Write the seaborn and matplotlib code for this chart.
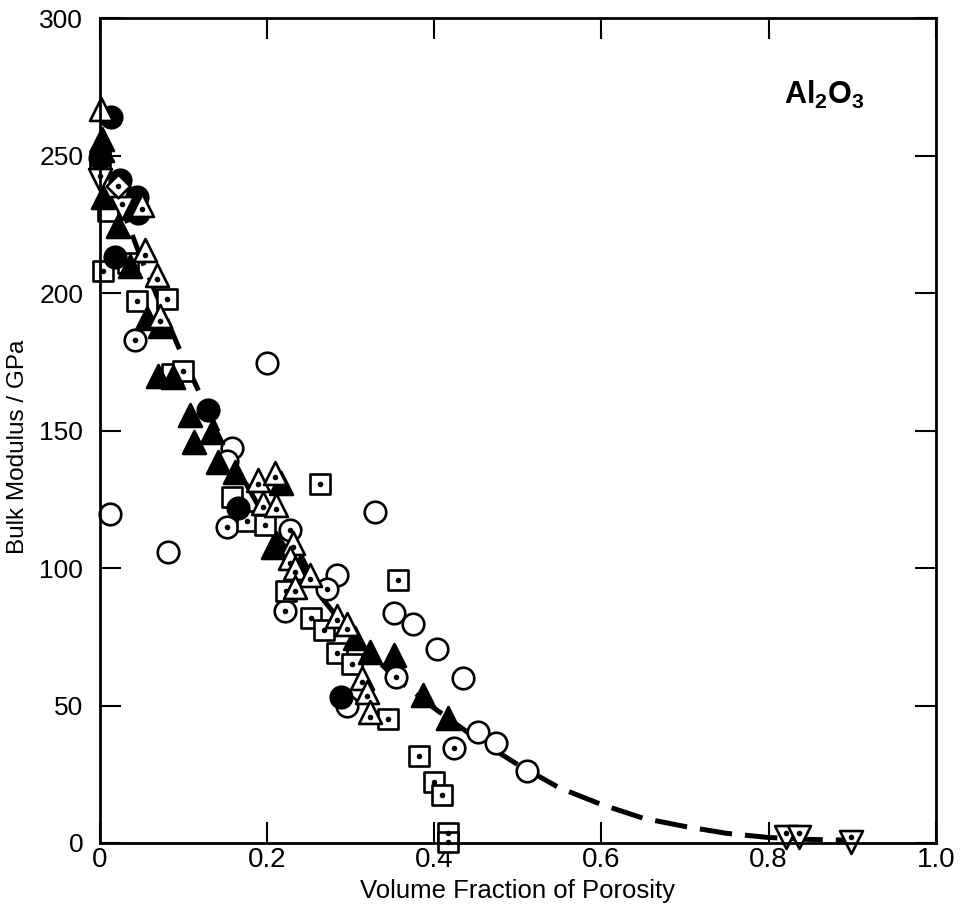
import matplotlib
matplotlib.use("Agg")
import matplotlib.pyplot as plt
import seaborn as sns
import numpy as np
import pandas as pd

# ---------------- data ----------------
filled_circle_x = [0.013, 0.0, 0.024, 0.044, 0.046, 0.018, 0.129, 0.165, 0.288]
filled_circle_y = [264, 249, 241, 235, 229, 213, 157.5, 122, 53]

open_circle_x = [0.012, 0.081, 0.200, 0.158, 0.152, 0.329, 0.283, 0.352, 0.374,
                 0.403, 0.434, 0.452, 0.474, 0.511, 0.295]
open_circle_y = [119.5, 106, 174.5, 143.5, 139, 120.5, 97.5, 83.5, 79.5,
                 70.5, 60, 40.5, 36.5, 26, 50]

dot_circle_x = [0.042, 0.152, 0.227, 0.272, 0.221, 0.354, 0.424]
dot_circle_y = [183, 115, 114, 92.5, 84.5, 60.5, 34.5]

filled_tri_x = [0.002, 0.002, 0.004, 0.022, 0.036, 0.056, 0.072, 0.069, 0.087,
                0.108, 0.113, 0.134, 0.141, 0.162, 0.217, 0.211, 0.207, 0.240,
                0.305, 0.323, 0.352, 0.387, 0.416]
filled_tri_y = [256, 252, 235, 224.5, 210, 191, 188, 170, 169.5,
                155.5, 146, 149.5, 138.5, 135, 131, 109, 107.5, 101,
                74.5, 69.5, 68.5, 54, 45.5]

dot_tri_x = [0.050, 0.054, 0.068, 0.072, 0.189, 0.209, 0.195, 0.211, 0.231,
             0.227, 0.233, 0.251, 0.233, 0.284, 0.296, 0.314, 0.320, 0.323]
dot_tri_y = [232, 215.5, 206.5, 191.5, 132, 134.5, 123.6, 123, 109,
             103.5, 100, 97.5, 93, 82.5, 79.5, 60, 55, 47.5]

open_tri_x = [0.001]
open_tri_y = [267]

dot_square_x = [0.004, 0.033, 0.044, 0.080, 0.086, 0.099, 0.176, 0.197, 0.263,
                0.223, 0.253, 0.268, 0.284, 0.302, 0.356, 0.344, 0.382, 0.400,
                0.409, 0.416, 0.416]
dot_square_y = [208, 211, 197, 198, 170.5, 171.5, 117, 115.5, 130.5,
                91.5, 82, 77.5, 69, 65, 95.5, 45, 31.5, 22,
                17.5, 3.5, 0.3]

open_square_x = [0.0, 0.010, 0.158]
open_square_y = [248, 230, 126]

dot_down_tri_x = [0.0, 0.026, 0.821, 0.836, 0.898]
dot_down_tri_y = [241, 231, 2, 2, 0.5]

dot_diamond_x = [0.021]
dot_diamond_y = [239]

curve_p = [0.0, 0.05, 0.1, 0.15, 0.2, 0.25, 0.3, 0.35, 0.4, 0.45, 0.5, 0.55,
           0.6, 0.65, 0.7, 0.75, 0.8, 0.85, 0.9]
curve_k = [252, 212, 176, 144, 117, 95, 76, 61, 49, 38, 28.5, 20,
           14, 9, 6, 3.5, 2, 1.3, 1]

x_ticks = [0, 0.2, 0.4, 0.6, 0.8, 1.0]
x_ticklabels = ["0", "0.2", "0.4", "0.6", "0.8", "1.0"]
y_ticks = [0, 50, 100, 150, 200, 250, 300]

# ---------------- style ----------------
sns.set_theme(style="ticks")
plt.rcParams["font.family"] = ["Liberation Sans", "DejaVu Sans"]
plt.rcParams["mathtext.fontset"] = "custom"
plt.rcParams["mathtext.bf"] = "Liberation Sans:bold"
plt.rcParams["mathtext.rm"] = "Liberation Sans:bold"

fig = plt.figure(figsize=(9.63, 9.19), dpi=100)
ax = fig.add_axes([0.1038, 0.0827, 0.868, 0.8977])

# dashed curve
sns.lineplot(x=curve_p, y=curve_k, ax=ax, color="black", lw=3.6,
             dashes=False, sort=True, zorder=1)
ax.lines[-1].set_dashes((6.5, 2.6))

EW = 1.9
MS = 15.5

def scat(x, y, marker, fc, size, z):
    sns.scatterplot(x=x, y=y, ax=ax, marker=marker, s=size ** 2,
                    facecolor=fc, edgecolor="black", linewidth=EW,
                    zorder=z, legend=False, clip_on=False)

def dots(x, y, z, dy=0.0):
    sns.scatterplot(x=np.asarray(x), y=np.asarray(y) + dy, ax=ax, marker="o",
                    s=16, color="black", linewidth=0, zorder=z, legend=False,
                    clip_on=False)

scat(open_circle_x, open_circle_y, "o", "white", MS, 3)
scat(dot_circle_x, dot_circle_y, "o", "white", MS, 3)
dots(dot_circle_x, dot_circle_y, 3.1)
scat(dot_square_x, dot_square_y, "s", "white", 14, 4)
dots(dot_square_x, dot_square_y, 4.1)
scat(open_square_x, open_square_y, "s", "white", 14, 4)
scat(filled_tri_x, filled_tri_y, "^", "black", 16.5, 5)
scat(dot_tri_x, dot_tri_y, "^", "white", 16.5, 6)
dots(dot_tri_x, dot_tri_y, 6.1, dy=-1.5)
scat(open_tri_x, open_tri_y, "^", "white", 16.5, 6)
scat(dot_down_tri_x, dot_down_tri_y, "v", "white", 16.5, 6)
dots(dot_down_tri_x, dot_down_tri_y, 6.1, dy=1.5)
scat(dot_diamond_x, dot_diamond_y, "D", "white", 12, 6)
dots(dot_diamond_x, dot_diamond_y, 6.1)
scat(filled_circle_x, filled_circle_y, "o", "black", MS, 5.5)

ax.set_xlim(0, 1.0)
ax.set_ylim(0, 300)
ax.set_xticks(x_ticks)
ax.set_xticklabels(x_ticklabels)
ax.set_yticks(y_ticks)
ax.tick_params(direction="in", length=15, width=1.5, top=True, right=True,
               colors="black")
ax.tick_params(axis="x", labelsize=20, pad=3)
ax.tick_params(axis="y", labelsize=19, pad=12)
for sp in ax.spines.values():
    sp.set_linewidth(2.0)
    sp.set_color("black")
    sp.set_visible(True)
    sp.set_zorder(10)

ax.set_xlabel("Volume Fraction of Porosity", fontsize=18.5, labelpad=4, color="black")
ax.set_ylabel("Bulk Modulus / GPa", fontsize=17.5, color="black")
ax.yaxis.set_label_coords(-0.085, 0.48)

ax.text(0.818, 272, r"$\mathbf{Al_2O_3}$", fontsize=22, va="center", ha="left",
        color="black")

fig.savefig("out.png", dpi=100, facecolor="white")
